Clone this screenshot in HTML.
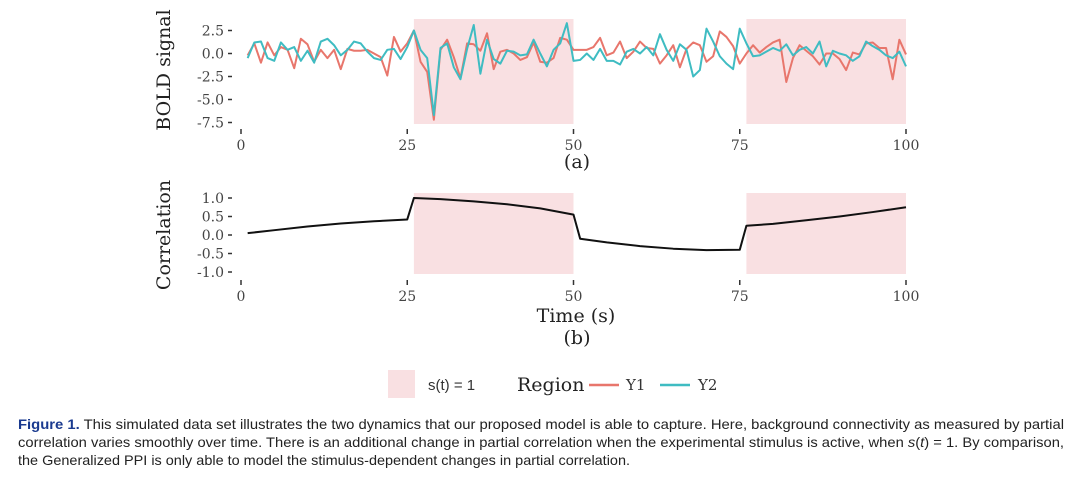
<!DOCTYPE html>
<html><head><meta charset="utf-8"><style>
html,body{margin:0;padding:0;background:#fff;width:1080px;height:501px;overflow:hidden}
svg text.s{font-family:"DejaVu Serif","Liberation Serif",serif}
svg text.c{font-family:"Liberation Sans",sans-serif;font-size:14px;fill:#222}
</style></head><body>
<svg id="fig" width="1080" height="501" viewBox="0 0 1080 501" xmlns="http://www.w3.org/2000/svg">
<g id="topPanel"></g>
<g id="botPanel"></g>
<g>
<rect x="388" y="370" width="27" height="28" fill="#f9e0e2"/>
<text x="428" y="390" font-family="Liberation Sans, sans-serif" font-size="15" fill="#333">s(t) = 1</text>
<text class="s" x="517" y="391" font-size="19" fill="#222">Region</text>
<line x1="589" y1="385" x2="619" y2="385" stroke="#e8766c" stroke-width="2.5"/>
<text class="s" x="626" y="390" font-size="15" fill="#333">Y1</text>
<line x1="660" y1="385" x2="690" y2="385" stroke="#3fbcc2" stroke-width="2.5"/>
<text class="s" x="698" y="390" font-size="15" fill="#333">Y2</text>
</g>
<g>
<text class="c" x="18" y="429" textLength="1046" lengthAdjust="spacingAndGlyphs"><tspan font-weight="bold" fill="#1a3a8f">Figure 1.</tspan> This simulated data set illustrates the two dynamics that our proposed model is able to capture. Here, background connectivity as measured by partial</text>
<text class="c" x="18" y="447" textLength="1046" lengthAdjust="spacingAndGlyphs">correlation varies smoothly over time. There is an additional change in partial correlation when the experimental stimulus is active, when <tspan font-style="italic">s</tspan>(<tspan font-style="italic">t</tspan>) = 1. By comparison,</text>
<text class="c" x="18" y="465" textLength="612" lengthAdjust="spacingAndGlyphs">the Generalized PPI is only able to model the stimulus-dependent changes in partial correlation.</text>
</g>
</svg>
<script>
const y1Values=[-0.2,1.1,-1,1.2,-0.2,0.7,0.4,-1.6,1.6,1,-0.9,0.4,-0.5,0.4,-1.7,0.5,0.3,0.3,0.4,0,-0.4,-2.4,1.8,0.2,1.1,2.5,-0.9,-2,-7.2,0.4,1.5,-0.4,-2.7,1.1,1,0.3,2.2,-1.7,0.2,0.4,0,-0.7,-0.4,1.2,-0.9,-1,-0.5,1.7,1.5,0.4,0.4,0.4,0.7,1.7,-0.2,0.1,1.3,-0.5,0.2,1.3,0.6,0.5,-1.1,-0.2,0.9,-1.5,0.5,1.2,0.9,-0.9,-0.3,2.4,1.8,0.8,-1.1,0,0.9,0.1,0.7,1.2,1.5,-3.1,-0.5,0.9,0.3,-0.3,-1.2,0,0,-0.6,-1.8,0.1,-0.1,1.1,1.2,0.6,0.6,-2.8,1.5,-0.1];
const y2Values=[-0.5,1.2,1.3,-0.5,-0.8,1.2,0.4,0.7,-0.8,0.3,-1,1.3,1.6,0.9,-0.2,0.4,1.3,1.1,0.2,-0.5,-0.7,0.4,0.5,-0.6,0.7,2.5,0.4,-0.5,-6.7,0.6,1.1,-1.5,-2.8,0.5,3.1,-2.2,1.5,-0.6,-1.1,0.3,0.2,-0.2,-0.1,1.5,0,-1.4,0.4,1.1,3.3,-0.8,-0.7,0,-0.7,0.5,-0.8,-0.8,-1.2,0.2,0.5,0,0.7,-0.2,2.1,0.4,-0.8,1,0.4,-2.5,-1.8,2.7,1.3,-0.3,-1.1,-1.7,2.7,1.1,-0.3,-0.2,0.2,0.6,0.3,1,-0.2,0.4,0.7,0,1.3,-1.4,0.3,0,-0.2,-0.8,-0.3,1.3,0.8,0.4,-0.2,-0.5,0.2,-1.4];
const corrTimes=[1,5,10,15,20,25,26,30,35,40,45,50,51,55,60,65,70,75,76,80,85,90,95,100];
const corrValues=[0.05,0.13,0.23,0.31,0.37,0.42,1.0,0.97,0.91,0.83,0.72,0.55,-0.1,-0.2,-0.3,-0.37,-0.41,-0.4,0.25,0.3,0.4,0.5,0.62,0.75];
const stimStarts=[26,76];
const stimEnds=[50,100];
const xTicks=[0,25,50,75,100];
const topTicks=[2.5,0,-2.5,-5,-7.5];
const topTickLabels=["2.5","0.0","-2.5","-5.0","-7.5"];
const botTicks=[1,0.5,0,-0.5,-1];
const botTickLabels=["1.0","0.5","0.0","-0.5","-1.0"];
const NS="http://www.w3.org/2000/svg";
const xs=t=>241+t*6.65;
const yTop=v=>53.5-v*9.2;
const yBot=v=>235-v*37;
function mk(p,tag,at){const e=document.createElementNS(NS,tag);for(const k in at)e.setAttribute(k,at[k]);p.appendChild(e);return e;}
function panel(g,ys,lo,hi,ticks,labels,tickY,title,titleY){
  for(let i=0;i<stimStarts.length;i++){
    const r=mk(g,'rect',{x:xs(stimStarts[i]),y:lo,width:xs(stimEnds[i])-xs(stimStarts[i]),height:hi-lo,fill:'#f9e0e2'});
    
    
  }
  ticks.forEach((v,i)=>{
    const t=mk(g,'text',{x:224,y:ys(v)+5,'text-anchor':'end','font-size':14,fill:'#444',class:'s'});t.textContent=labels[i];
    
    
    mk(g,'line',{x1:228,x2:232,y1:ys(v),y2:ys(v),stroke:'#333','stroke-width':1.5});
  });
  xTicks.forEach(v=>{
    mk(g,'line',{x1:xs(v),x2:xs(v),y1:tickY-9,y2:tickY-4,stroke:'#333','stroke-width':1.5});
    const t=mk(g,'text',{x:xs(v),y:tickY+12,'text-anchor':'middle','font-size':14,fill:'#444',class:'s'});t.textContent=v;
    
    
  });
  const tt=mk(g,'text',{x:0,y:0,'text-anchor':'middle','font-size':19,fill:'#222',class:'s',transform:`translate(170,${titleY}) rotate(-90)`});tt.textContent=title;
  
  
}
const topG=document.getElementById('topPanel'),botG=document.getElementById('botPanel');
panel(topG,yTop,19,124,topTicks,topTickLabels,138,'BOLD signal',70);
panel(botG,yBot,193,274,botTicks,botTickLabels,289,'Correlation',235);
function line(g,pts,color,name){
  const p=mk(g,'polyline',{points:pts.map(q=>q.join(',')).join(' '),fill:'none',stroke:color,'stroke-width':2,'stroke-linejoin':'round'});
  
  
}
line(topG,y1Values.map((v,i)=>[xs(i+1),yTop(v)]),'#e8766c','series-y1');
line(topG,y2Values.map((v,i)=>[xs(i+1),yTop(v)]),'#3fbcc2','series-y2');
line(botG,corrValues.map((v,i)=>[xs(corrTimes[i]),yBot(v)]),'#111','correlation-line');
function lab(txt,x,y,sz,name){const t=mk(document.getElementById('fig'),'text',{x:x,y:y,'text-anchor':'middle','font-size':sz,fill:'#222',class:'s'});t.textContent=txt;
  
  }
lab('(a)',577,168,19,'panel-a-label');
lab('Time (s)',576,322,19,'x-axis-title');
lab('(b)',577,344,19,'panel-b-label');
</script>
</body></html>
